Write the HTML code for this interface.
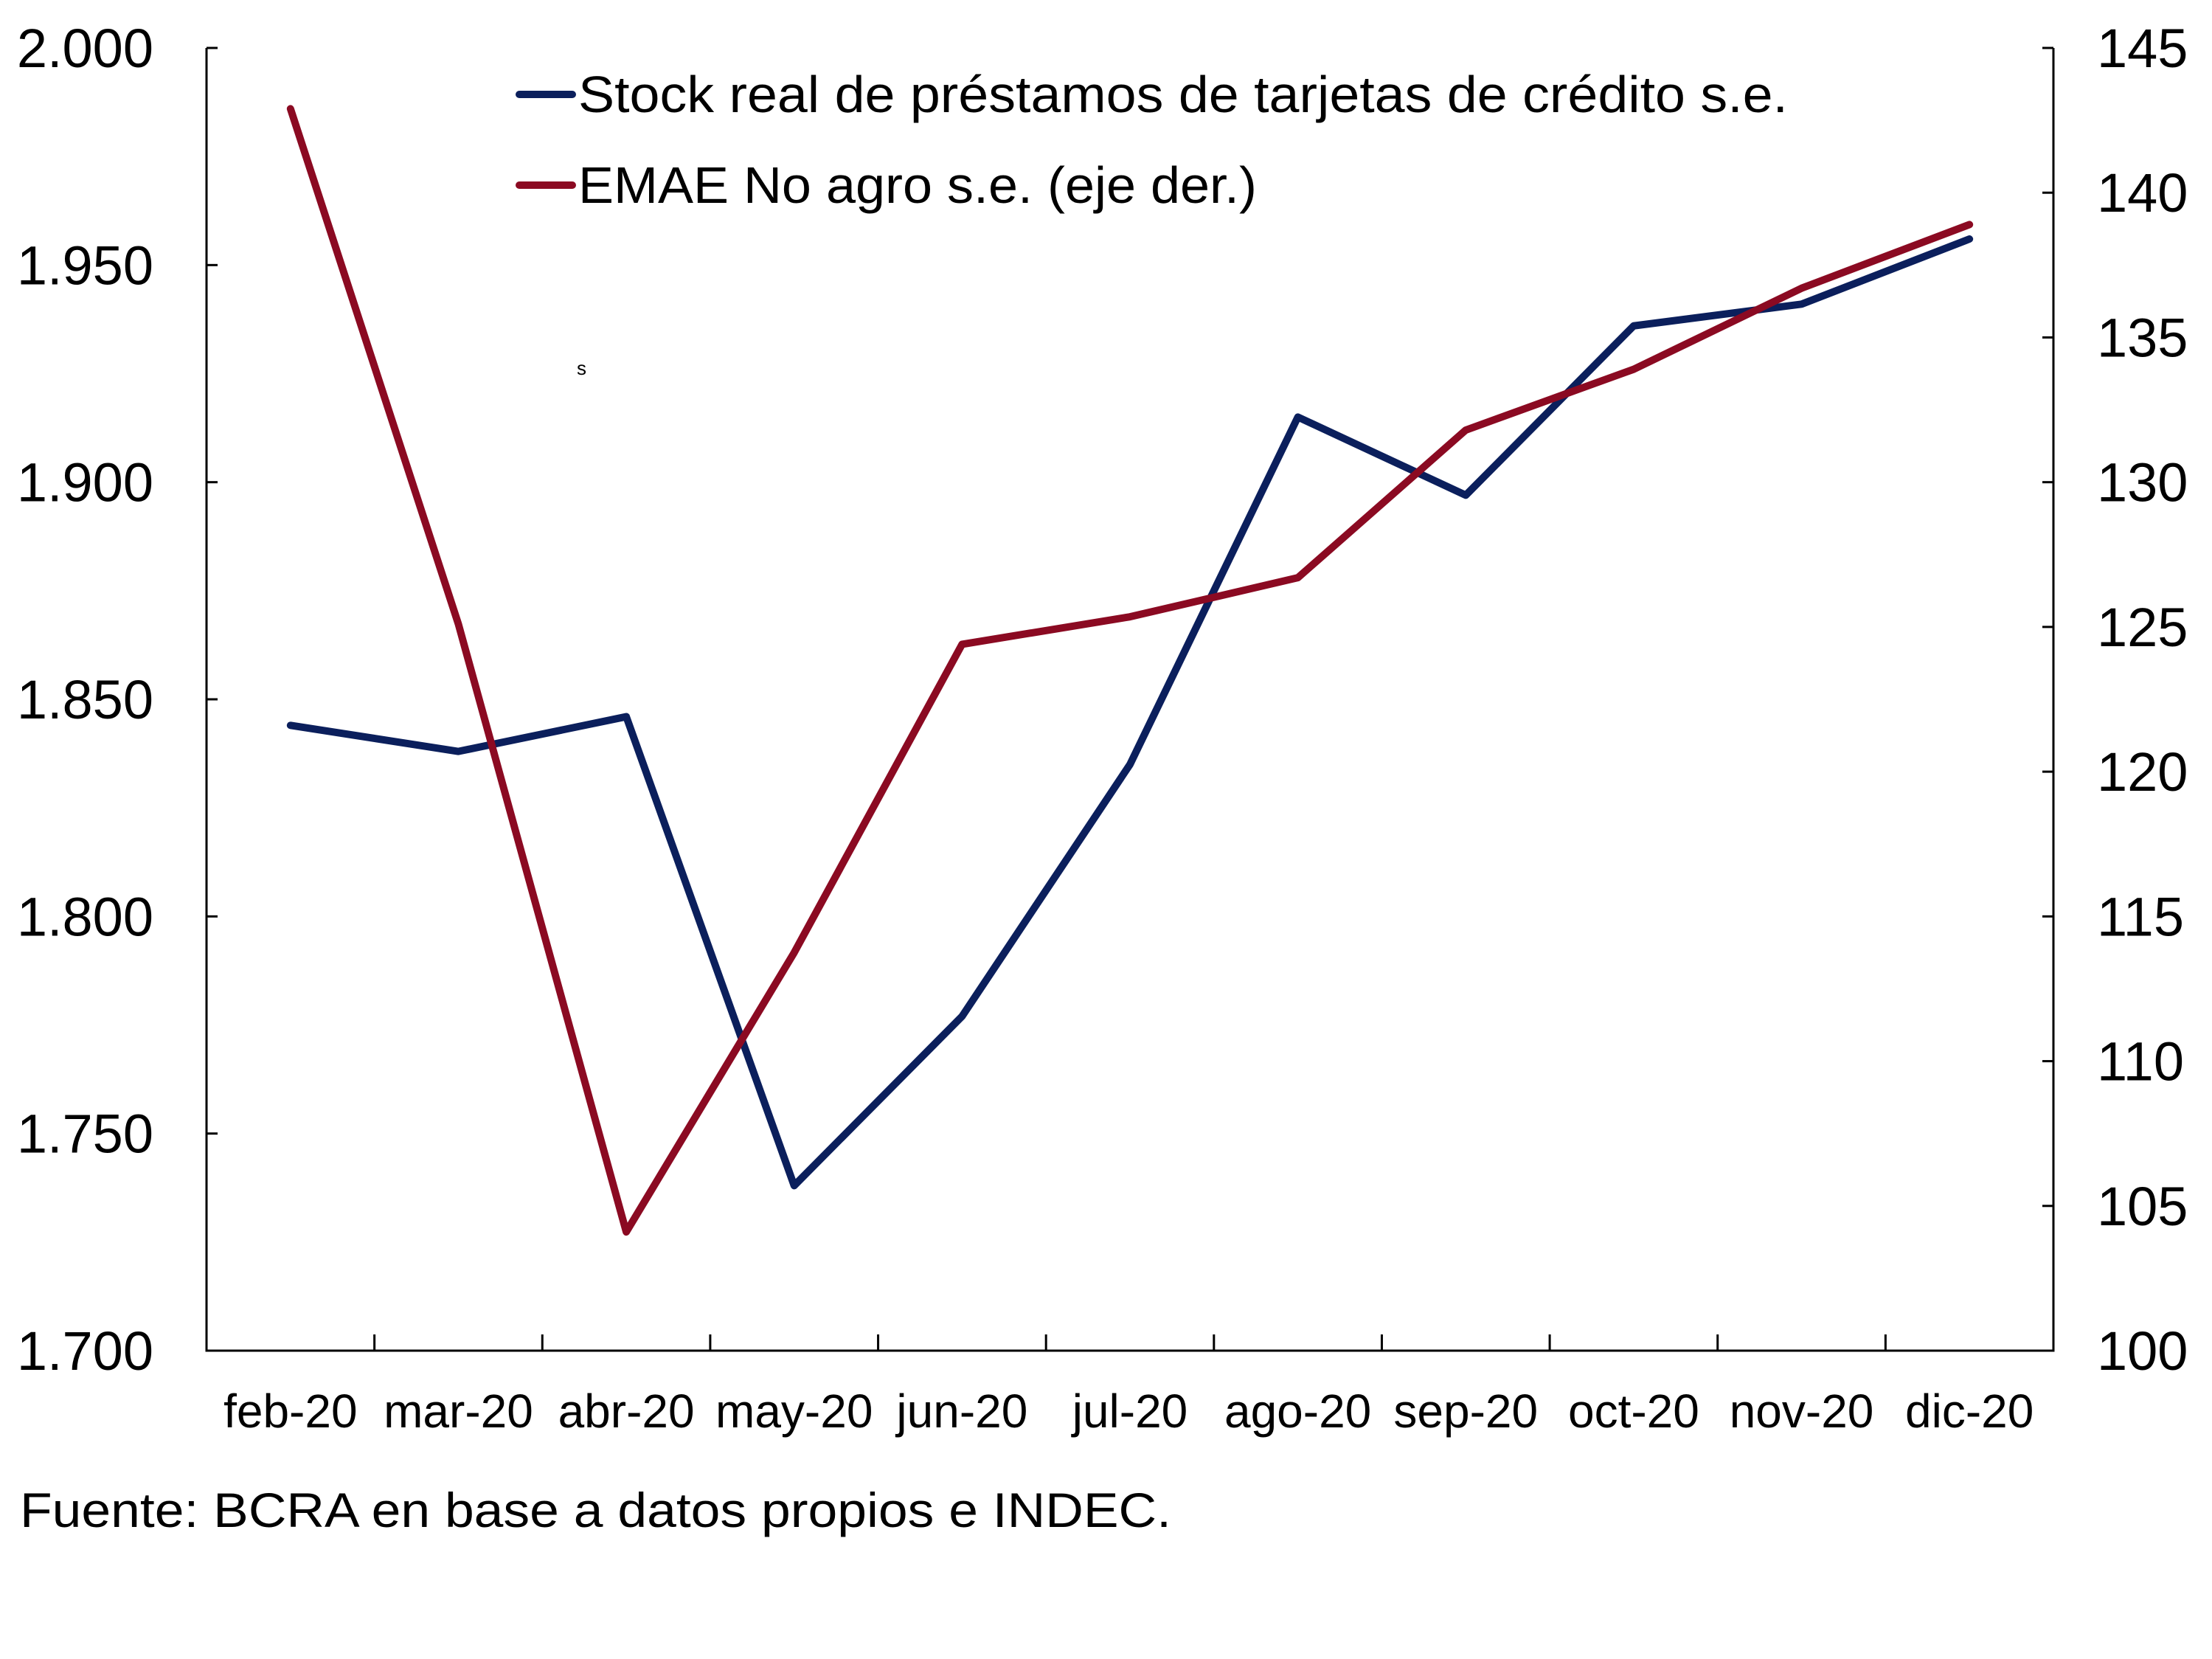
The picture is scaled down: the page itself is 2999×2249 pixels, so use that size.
<!DOCTYPE html>
<html><head><meta charset="utf-8"><style>
html,body{margin:0;padding:0;background:#fff;}
svg{display:block;font-family:"Liberation Sans",sans-serif;}
</style></head><body>
<svg id="chart" width="2999" height="2249" viewBox="0 0 2999 2249">
<g id="axes"></g>
<g id="series"></g>
<g>
<line x1="704" y1="128" x2="776" y2="128" stroke="#0b1f5c" stroke-width="10" stroke-linecap="round"/>
<text x="784" y="152" font-size="70" textLength="1640" lengthAdjust="spacingAndGlyphs">Stock real de préstamos de tarjetas de crédito s.e.</text>
<line x1="704" y1="251" x2="776" y2="251" stroke="#8b0a22" stroke-width="10" stroke-linecap="round"/>
<text x="784" y="275" font-size="70" textLength="920" lengthAdjust="spacingAndGlyphs">EMAE No agro s.e. (eje der.)</text>
</g>
<text x="782" y="508" font-size="26">s</text>
<text x="27" y="2070" font-size="66" textLength="1561" lengthAdjust="spacingAndGlyphs">Fuente: BCRA en base a datos propios e INDEC.</text>
</svg>
<script>
const categories=["feb-20","mar-20","abr-20","may-20","jun-20","jul-20","ago-20","sep-20","oct-20","nov-20","dic-20"];
const stockValues=[1844,1838,1846,1738,1777,1835,1915,1897,1936,1941,1956];
const emaeValues=[142.9,125.1,104.1,113.75,124.4,125.35,126.7,131.8,133.9,136.7,138.9];
const leftTicks=[1700,1750,1800,1850,1900,1950,2000];
const leftTickLabels=["1.700","1.750","1.800","1.850","1.900","1.950","2.000"];
const rightTicks=[100,105,110,115,120,125,130,135,140,145];

const NS="http://www.w3.org/2000/svg";
const X0=280,X1=2784,YT=65,YB=1831;
const bw=(X1-X0)/categories.length;
const xC=i=>X0+bw*(i+0.5);
const yL=v=>YB-(v-1700)/300*(YB-YT);
const yR=v=>YB-(v-100)/45*(YB-YT);
function mk(tag,attrs,parent){const e=document.createElementNS(NS,tag);for(const k in attrs)e.setAttribute(k,attrs[k]);parent.appendChild(e);return e;}
const ax=document.getElementById('axes');
let e;
e=mk('path',{d:`M${X0},${YT}V${YB}H${X1}V${YT}`,fill:'none',stroke:'#000','stroke-width':3},ax);


leftTicks.forEach((v,i)=>{
 e=mk('line',{x1:X0,x2:X0+15,y1:yL(v),y2:yL(v),stroke:'#000','stroke-width':3},ax);
 
 
 e=mk('text',{x:208,y:yL(v)+26,'font-size':74,'text-anchor':'end'},ax);
 e.textContent=leftTickLabels[i];
 
 
});
rightTicks.forEach(v=>{
 e=mk('line',{x1:X1-15,x2:X1,y1:yR(v),y2:yR(v),stroke:'#000','stroke-width':3},ax);
 
 
 e=mk('text',{x:2843,y:yR(v)+26,'font-size':74},ax);
 e.textContent=String(v);
 
 
});
for(let i=1;i<categories.length;i++){
 e=mk('line',{x1:X0+bw*i,x2:X0+bw*i,y1:YB,y2:YB-22,stroke:'#000','stroke-width':3},ax);
 
 
}
categories.forEach((c,i)=>{
 e=mk('text',{x:xC(i),y:1935,'font-size':64,'text-anchor':'middle'},ax);
 e.textContent=c;
 
 
});
const sg=document.getElementById('series');
e=mk('polyline',{points:stockValues.map((v,i)=>xC(i)+','+yL(v)).join(' '),fill:'none',stroke:'#0b1f5c','stroke-width':10,'stroke-linecap':'round','stroke-linejoin':'round'},sg);


e=mk('polyline',{points:emaeValues.map((v,i)=>xC(i)+','+yR(v)).join(' '),fill:'none',stroke:'#8b0a22','stroke-width':10,'stroke-linecap':'round','stroke-linejoin':'round'},sg);


</script>
</body></html>
